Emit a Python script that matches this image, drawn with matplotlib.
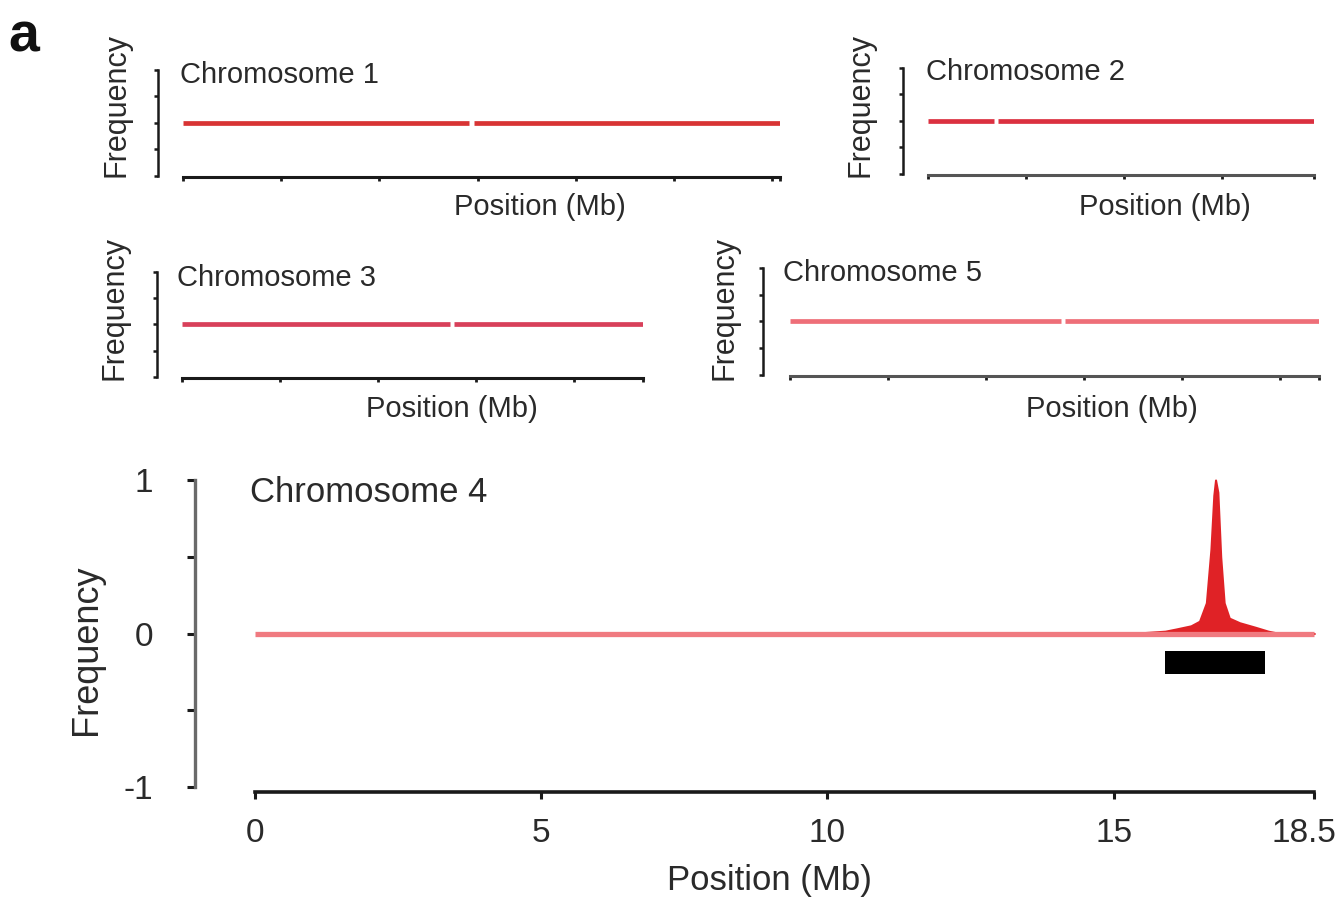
import matplotlib
matplotlib.use('Agg')
import matplotlib.pyplot as plt
import matplotlib.transforms as mtransforms
import numpy as np

plt.rcParams['font.family'] = ['Liberation Sans', 'DejaVu Sans']

W, H = 1335, 899

# chromosome lengths (Mb)
chr1_len, chr2_len, chr3_len, chr4_len, chr5_len = 30.4, 19.7, 23.5, 18.5, 27.0

# frequency traces along each chromosome; NaN = gap in the trace
chr1_pos = [0, 14.55, np.nan, 14.8, 30.4]
chr1_freq = [0, 0, np.nan, 0, 0]
chr2_pos = [0, 3.35, np.nan, 3.55, 19.7]
chr2_freq = [0, 0, np.nan, 0, 0]
chr3_pos = [0, 13.65, np.nan, 13.85, 23.5]
chr3_freq = [0, 0, np.nan, 0, 0]
chr5_pos = [0, 13.85, np.nan, 14.05, 27.0]
chr5_freq = [0, 0, np.nan, 0, 0]

chr4_pos = [0, 15.0, 15.5, 15.9, 16.1, 16.35, 16.5, 16.62, 16.7, 16.75, 16.78,
            16.82, 16.87, 16.93, 17.02, 17.2, 17.48, 17.7, 17.9, 18.5]
chr4_freq = [0, 0, 0.005, 0.015, 0.03, 0.05, 0.08, 0.2, 0.55, 0.9, 1.0,
             0.92, 0.5, 0.2, 0.1, 0.07, 0.04, 0.015, 0, 0]

# mapped interval (Mb)
bar_start, bar_end = 15.9, 17.65

chr4_xticks = [0, 5, 10, 15, 18.5]
chr4_xticklabels = ['0', '5', '10', '15', '18.5']
yticks = [-1, -0.5, 0, 0.5, 1]
chr4_yticklabels = ['-1', '', '0', '', '1']

txt = '#2a2a2a'

fig = plt.figure(figsize=(W / 100, H / 100), dpi=100)


def fx(px):
    return px / W


def fy(py):
    return 1 - py / H


def small_panel(spine_x, x0, x1, ytop, ybot, length, pos, freq, color, name,
                title_xy, ylab_xy, xlab_xy, xcol):
    ppm = (x1 - x0) / length
    ax = fig.add_axes([fx(spine_x), fy(ybot), (x1 - spine_x) / W, (ybot - ytop) / H])
    ax.set_xlim(-(x0 - spine_x) / ppm, length)
    ax.set_ylim(-1.02, 1)
    ax.plot(pos, freq, color=color, lw=3.4, solid_capstyle='butt')
    for s in ['top', 'right']:
        ax.spines[s].set_visible(False)
    ax.spines['left'].set_bounds(-1, 1)
    ax.spines['left'].set_linewidth(1.8)
    ax.spines['left'].set_color('#1a1a1a')
    ax.spines['bottom'].set_bounds(0, length)
    ax.spines['bottom'].set_linewidth(2.2)
    ax.spines['bottom'].set_color(xcol)
    ax.set_yticks(yticks)
    ax.set_yticklabels([])
    ax.set_xticks(list(np.arange(0, length, 5)) + [length])
    ax.set_xticklabels([])
    ax.tick_params(axis='y', length=3, width=1.8, color='#1a1a1a')
    ax.tick_params(axis='x', length=3, width=2, color='#1a1a1a')
    ax.patch.set_visible(False)
    fig.text(fx(title_xy[0]), fy(title_xy[1]), name, fontsize=21, color=txt,
             ha='left', va='center')
    ax.set_ylabel('Frequency', fontsize=22, color=txt)
    ax.yaxis.set_label_coords(fx(ylab_xy[0]), fy(ylab_xy[1]), transform=fig.transFigure)
    ax.set_xlabel('Position (Mb)', fontsize=21, color=txt)
    ax.xaxis.set_label_coords(fx(xlab_xy[0]), fy(xlab_xy[1]), transform=fig.transFigure)
    return ax


small_panel(158, 183, 780, 70, 177, chr1_len, chr1_pos, chr1_freq, '#d83434',
            'Chromosome 1', (180, 75), (132, 105), (540, 193), '#1a1a1a')
small_panel(903, 928, 1314, 68, 175, chr2_len, chr2_pos, chr2_freq, '#db3040',
            'Chromosome 2', (926, 72), (876, 105), (1165, 193), '#555555')
small_panel(157, 182, 643, 272, 378, chr3_len, chr3_pos, chr3_freq, '#d8405a',
            'Chromosome 3', (177, 278), (130, 308), (452, 395), '#1a1a1a')
small_panel(763, 790, 1319, 268, 376, chr5_len, chr5_pos, chr5_freq, '#ee6e78',
            'Chromosome 5', (783, 273), (740, 308), (1112, 395), '#555555')

# Chromosome 4 (large panel)
sx, x0, x1, ytop, ybot, y0b = 195, 255, 1314, 480, 792, 787
ppm = (x1 - x0) / chr4_len
upp = (y0b - ytop) / 2
ax = fig.add_axes([fx(sx), fy(ybot), (x1 - sx) / W, (ybot - ytop) / H])
ax.set_xlim(-(x0 - sx) / ppm, chr4_len)
ax.set_ylim(-1 - (ybot - y0b) / upp, 1)
ax.plot(chr4_pos, np.zeros(len(chr4_pos)), color='#f07a80', lw=3.8,
        solid_capstyle='butt', clip_on=False)
pk = np.array(chr4_pos) >= 15.0
ax.fill_between(np.array(chr4_pos)[pk], np.array(chr4_freq)[pk], 0,
                color='#e02226', lw=1.5, edgecolor='#e02226', clip_on=False)
ax.barh(-(0.111 + 0.261) / 2, bar_end - bar_start, left=bar_start,
        height=0.15, color='black')
for s in ['top', 'right']:
    ax.spines[s].set_visible(False)
ax.spines['left'].set_bounds(-1, 1)
ax.spines['left'].set_linewidth(2.4)
ax.spines['left'].set_color('#6a6a6a')
ax.spines['bottom'].set_bounds(0, chr4_len)
ax.spines['bottom'].set_linewidth(2.6)
ax.spines['bottom'].set_color('#1a1a1a')
ax.set_yticks(yticks)
ax.set_yticklabels(chr4_yticklabels)
ax.set_xticks(chr4_xticks)
ax.set_xticklabels(chr4_xticklabels)
ax.tick_params(axis='y', length=6, width=2.2, color='#1a1a1a', pad=24,
               labelsize=24, labelcolor=txt)
ax.tick_params(axis='x', length=5, width=2.2, color='#1a1a1a', pad=14,
               labelsize=24, labelcolor=txt)
# nudge the last tick label so it stays inside the figure
last = ax.get_xticklabels()[-1]
last.set_transform(last.get_transform() +
                   mtransforms.ScaledTranslation(-10 / 100, 0, fig.dpi_scale_trans))
ax.patch.set_visible(False)
fig.text(fx(250), fy(493), 'Chromosome 4', fontsize=25, color=txt,
         ha='left', va='center')
ax.set_ylabel('Frequency', fontsize=26, color=txt)
ax.yaxis.set_label_coords(fx(104), fy(650), transform=fig.transFigure)
ax.set_xlabel('Position (Mb)', fontsize=25, color=txt)
ax.xaxis.set_label_coords(fx(769), fy(864), transform=fig.transFigure)

fig.text(fx(8), fy(37), 'a', fontsize=40, fontweight='bold', color='#111111',
         ha='left', va='center')

fig.savefig('out.png', dpi=100)
